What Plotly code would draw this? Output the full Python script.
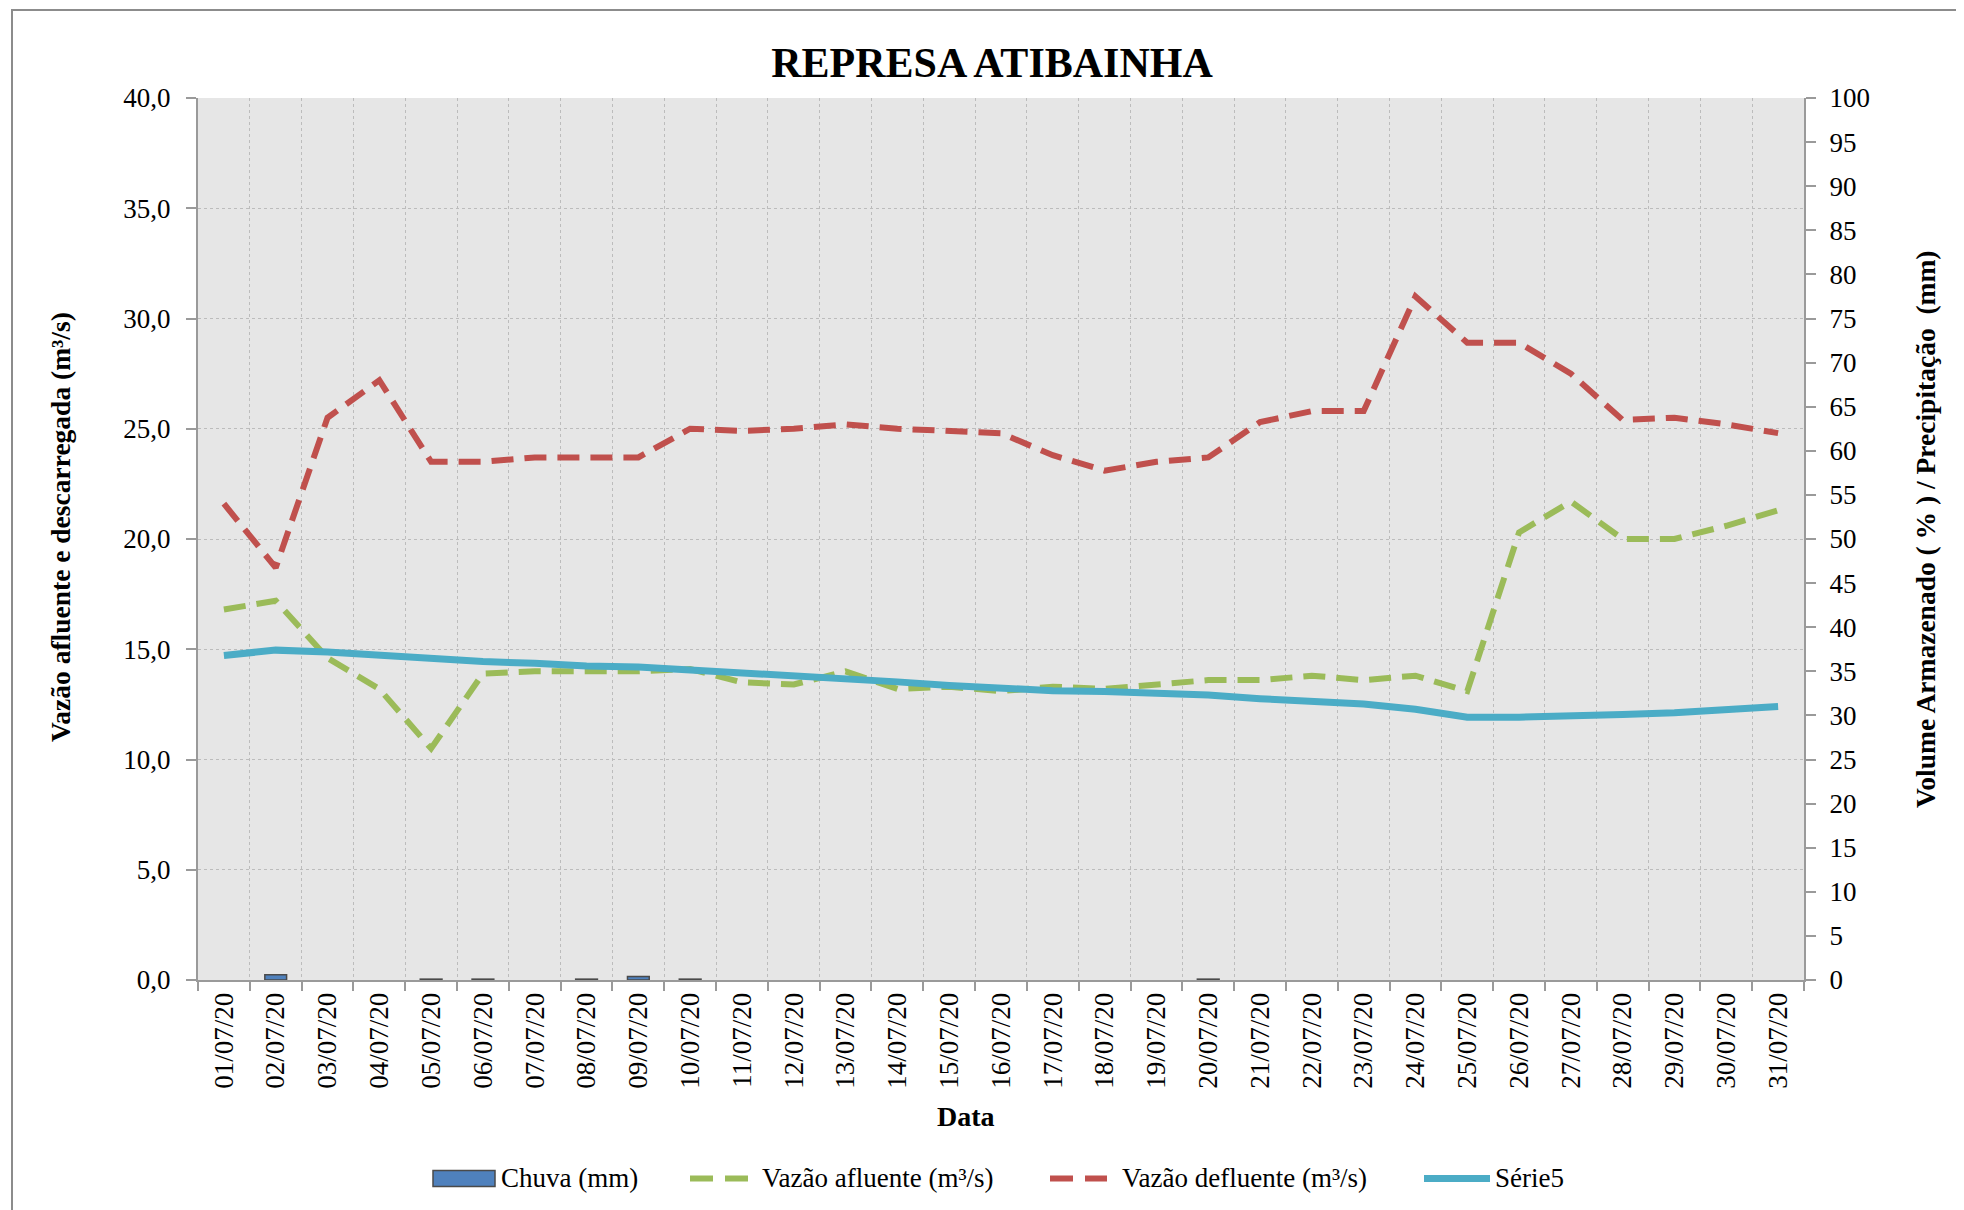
import plotly.graph_objects as go

datas = ["01/07/20", "02/07/20", "03/07/20", "04/07/20", "05/07/20", "06/07/20", "07/07/20",
         "08/07/20", "09/07/20", "10/07/20", "11/07/20", "12/07/20", "13/07/20", "14/07/20",
         "15/07/20", "16/07/20", "17/07/20", "18/07/20", "19/07/20", "20/07/20", "21/07/20",
         "22/07/20", "23/07/20", "24/07/20", "25/07/20", "26/07/20", "27/07/20", "28/07/20",
         "29/07/20", "30/07/20", "31/07/20"]

chuva = [0, 0.6, 0, 0, 0.1, 0.1, 0, 0.1, 0.4, 0.1, 0, 0, 0, 0, 0, 0, 0, 0, 0, 0.1,
         0, 0, 0, 0, 0, 0, 0, 0, 0, 0, 0]

vazao_afluente = [16.8, 17.2, 14.6, 13.2, 10.5, 13.9, 14.0, 14.0, 14.0, 14.1, 13.5, 13.4, 14.0,
                  13.2, 13.3, 13.1, 13.3, 13.2, 13.4, 13.6, 13.6, 13.8, 13.6, 13.8, 13.1,
                  20.3, 21.7, 20.0, 20.0, 20.6, 21.3]

vazao_defluente = [21.6, 18.7, 25.5, 27.2, 23.5, 23.5, 23.7, 23.7, 23.7, 25.0, 24.9, 25.0, 25.2,
                   25.0, 24.9, 24.8, 23.8, 23.1, 23.5, 23.7, 25.3, 25.8, 25.8, 31.0, 28.9,
                   28.9, 27.5, 25.4, 25.5, 25.2, 24.8]

volume = [36.8, 37.4, 37.2, 36.8, 36.3, 36.1, 35.9, 35.6, 35.5, 35.2, 34.8, 34.4, 34.1, 33.8,
          33.4, 33.1, 32.8, 32.7, 32.5, 32.3, 31.9, 31.6, 31.3, 30.7, 29.8, 29.8, 29.9, 30.1,
          30.3, 30.6, 31.0]

left_ticks = [0, 5, 10, 15, 20, 25, 30, 35, 40]
right_ticks = list(range(0, 101, 5))

legend_names = ["Chuva (mm)", "Vazão afluente (m³/s)", "Vazão defluente (m³/s)", "Série5"]

SERIF = "Liberation Serif"
AXIS_GRAY = "#9a9a9a"
C_BAR, C_GREEN, C_RED, C_BLUE = "#4F81BD", "#9BBB59", "#C0504D", "#4BACC6"
DASH = "22px,11px"

fig = go.Figure()

fig.add_trace(go.Bar(
    x=datas, y=chuva, name=legend_names[0], yaxis="y2", showlegend=False,
    marker=dict(color=C_BAR,
                line=dict(color="#4a4a4a", width=[1.5 if v > 0 else 0 for v in chuva])),
))
fig.add_trace(go.Scatter(
    x=datas, y=vazao_afluente, name=legend_names[1], mode="lines", showlegend=False,
    line=dict(color=C_GREEN, width=6, dash=DASH),
))
fig.add_trace(go.Scatter(
    x=datas, y=vazao_defluente, name=legend_names[2], mode="lines", showlegend=False,
    line=dict(color=C_RED, width=6, dash=DASH),
))
fig.add_trace(go.Scatter(
    x=datas, y=volume, name=legend_names[3], mode="lines", yaxis="y2", showlegend=False,
    line=dict(color=C_BLUE, width=7),
))

# page body has an 8px margin: the figure is drawn 8px smaller and everything shifted
OFF = 8
W, H = 1964 - OFF, 1210 - OFF
# plot area in reference (screen) coordinates
L, R, T, B = 198, 1804, 97.6, 980.4
pw, ph = R - L, B - T


def px(x):
    return (x - L) / pw


def py(y):
    return (B - y) / ph


fig.update_layout(
    width=W, height=H,
    margin=dict(l=L - OFF, r=W - (R - OFF), t=T - OFF, b=H - (B - OFF), autoexpand=False),
    paper_bgcolor="white",
    plot_bgcolor="#E6E6E6",
    separators=",.",
    bargap=0.58,
    showlegend=False,
    font=dict(family=SERIF, color="black", size=26),
    title=dict(text="<b>REPRESA ATIBAINHA</b>", x=(992 - OFF) / W, y=1 - (62 - OFF) / H,
               xanchor="center", yanchor="middle", xref="container", yref="container",
               font=dict(family=SERIF, size=42, color="black")),
    xaxis=dict(
        type="category", tickson="boundaries",
        showgrid=True, gridcolor="#bcbcbc", griddash="dot", gridwidth=1,
        ticks="outside", ticklen=9, tickcolor=AXIS_GRAY, tickwidth=2,
        showline=True, linecolor=AXIS_GRAY, linewidth=2,
        tickangle=-90, tickfont=dict(family=SERIF, size=27),
    ),
    yaxis=dict(
        range=[0, 40], tickvals=left_ticks, tickformat=".1f",
        showgrid=True, gridcolor="#bcbcbc", griddash="dot", gridwidth=1,
        zeroline=False,
        ticks="outside", ticklen=10, tickcolor=AXIS_GRAY, tickwidth=2,
        showline=True, linecolor=AXIS_GRAY, linewidth=2,
        ticklabelstandoff=10,
        tickfont=dict(family=SERIF, size=27),
    ),
    yaxis2=dict(
        range=[0, 100], tickvals=right_ticks, overlaying="y", side="right",
        showgrid=False, zeroline=False,
        ticks="outside", ticklen=10, tickcolor=AXIS_GRAY, tickwidth=2,
        showline=True, linecolor=AXIS_GRAY, linewidth=2,
        ticklabelstandoff=8,
        tickfont=dict(family=SERIF, size=27),
    ),
)

# axis titles
fig.add_annotation(text="<b>Vazão afluente e descarregada (m³/s)</b>", xref="paper", yref="paper",
                   x=px(60), y=py(527), xanchor="center", yanchor="middle",
                   textangle=-90, showarrow=False,
                   font=dict(family=SERIF, size=27.5, color="black"))
fig.add_annotation(text="<b>Volume Armazenado ( % ) / Precipitação  (mm)</b>", xref="paper",
                   yref="paper", x=px(1925), y=py(529), xanchor="center", yanchor="middle",
                   textangle=-90, showarrow=False,
                   font=dict(family=SERIF, size=27.5, color="black"))
fig.add_annotation(text="<b>Data</b>", xref="paper", yref="paper",
                   x=px(966), y=py(1117), xanchor="center", yanchor="middle", showarrow=False,
                   font=dict(family=SERIF, size=28, color="black"))

# legend (drawn by hand to match the wide symbols of the original)
LEG_Y = 1179
LEG_DASH = "23px,12px"
fig.add_shape(type="rect", xref="paper", yref="paper",
              x0=px(433), x1=px(495), y0=py(1187), y1=py(1171),
              line=dict(color="#4a4a4a", width=1.5), fillcolor=C_BAR)
fig.add_shape(type="line", xref="paper", yref="paper",
              x0=px(690), x1=px(748), y0=py(LEG_Y), y1=py(LEG_Y),
              line=dict(color=C_GREEN, width=6, dash=LEG_DASH))
fig.add_shape(type="line", xref="paper", yref="paper",
              x0=px(1050), x1=px(1107), y0=py(LEG_Y), y1=py(LEG_Y),
              line=dict(color=C_RED, width=6, dash=LEG_DASH))
fig.add_shape(type="line", xref="paper", yref="paper",
              x0=px(1424), x1=px(1490), y0=py(LEG_Y), y1=py(LEG_Y),
              line=dict(color=C_BLUE, width=7))
for name, xs in zip(legend_names, [499, 760, 1120, 1493]):
    fig.add_annotation(text=name, xref="paper", yref="paper", x=px(xs), y=py(LEG_Y),
                       xanchor="left", yanchor="middle", showarrow=False,
                       font=dict(family=SERIF, size=27, color="black"))

# outer chart frame
fig.add_shape(type="rect", xref="paper", yref="paper",
              x0=px(12), x1=px(1990), y0=py(1240), y1=py(9.5),
              line=dict(color="#8c8c8c", width=2), fillcolor="rgba(0,0,0,0)", layer="below")

fig.write_html("out.html")
